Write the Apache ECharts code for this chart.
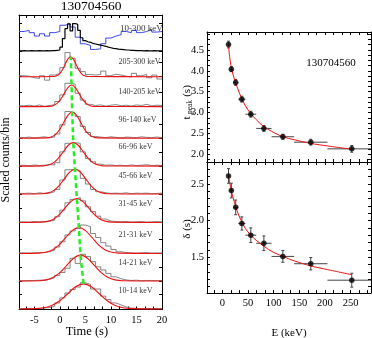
<!DOCTYPE html>
<html><head><meta charset="utf-8">
<script src="https://cdn.jsdelivr.net/npm/echarts@6/dist/echarts.min.js"></script>
<style>html,body{margin:0;padding:0;background:#fff}#c{width:372px;height:338px}</style>
</head><body><div id="c"></div>
<script>
// ---------------- data ----------------
const burstName = '130704560';
const binLo = [10, 14, 21, 31, 45, 66, 96, 140, 205];
const binHi = [14, 21, 31, 45, 66, 96, 140, 205, 300];
const tPeak = [4.63, 4.04, 3.72, 3.32, 2.96, 2.62, 2.42, 2.29, 2.13];
const tPeakErr = [0.08, 0.06, 0.07, 0.07, 0.07, 0.07, 0.06, 0.07, 0.08];
const delta = [2.61, 2.41, 2.18, 1.96, 1.80, 1.69, 1.51, 1.41, 1.185];
const deltaErr = [0.10, 0.10, 0.10, 0.09, 0.10, 0.10, 0.08, 0.085, 0.095];
const fitE = [12, 14, 17.5, 21, 26, 31, 38, 45, 55.5, 66, 81, 96, 118, 140, 172.5, 205, 252.5];
const tPeakFit = [4.62, 4.35, 4.08, 3.90, 3.71, 3.54, 3.33, 3.16, 2.97, 2.83, 2.66, 2.55, 2.42, 2.35, 2.26, 2.20, 2.12];
const deltaFit = [2.62, 2.53, 2.41, 2.31, 2.19, 2.09, 1.98, 1.89, 1.80, 1.73, 1.65, 1.58, 1.51, 1.45, 1.38, 1.33, 1.26];
const xTickLabels = [-5, 0, 5, 10, 15, 20];
const eTickLabels = [0, 50, 100, 150, 200, 250];
const tpTickLabels = [2.0, 2.5, 3.0, 3.5, 4.0, 4.5];
const dTickLabels = [1.5, 2.0, 2.5];

// light curves, 1 s bins starting at -8 s (scaled counts)
const lcBlue = [0.70,0.74,0.66,0.54,0.62,0.54,0.66,0.70,0.92,0.97,0.86,0.50,0.27,0.21,0.07,0.09,0.27,0.47,0.54,0.59,0.70,0.66,0.74,0.66,0.70,0.77,0.68,0.70];
// 10-300 keV black curve, 0.5 s bins starting at -8 s
const lcBlack = [0.02,0.03,0.02,0.02,0.03,0.02,0.02,0.03,0.02,0.02,0.03,0.02,0.03,0.03,0.04,0.05,
  0.15,0.45,0.80,0.97,0.72,0.98,0.95,0.74,0.48,0.38,0.34,0.32,0.28,0.26,0.24,0.22,0.20,0.18,0.15,0.13,0.11,0.10,0.08,0.07,0.06,0.05,0.05,0.04,0.04,
  0.03,0.03,0.03,0.02,0.03,0.02,0.02,0.03,0.02,0.02,0.02];
const h10  = [0.01,0.02,0.01,0.02,0.03,0.05,0.09,0.21,0.39,0.56,0.68,0.77,0.92,0.86,0.70,0.70,0.45,0.33,0.21,0.14,0.07,0.03,0.02,0.01,0.02,0.01,0.02,0.01];
const h14  = [0.01,0.02,0.02,0.03,0.03,0.06,0.12,0.20,0.30,0.45,0.80,0.62,0.94,0.86,0.68,0.50,0.39,0.27,0.15,0.08,0.04,0.02,0.03,0.01,0.02,0.02,0.01,0.02];
const h21  = [0.02,0.01,0.02,0.03,0.03,0.06,0.12,0.23,0.41,0.65,0.79,0.88,1.00,0.94,0.70,0.56,0.38,0.26,0.14,0.06,0.03,0.02,0.01,0.02,0.03,0.01,0.02,0.02];
const h31  = [0.02,0.01,0.03,0.02,0.03,0.04,0.08,0.20,0.43,0.69,0.81,0.88,0.76,0.55,0.38,0.22,0.12,0.05,0.03,0.02,0.03,0.01,0.02,0.03,0.01,0.02,0.03,0.02];
const h45  = [0.02,0.03,0.01,0.04,0.02,0.03,0.08,0.16,0.49,0.85,0.87,0.82,0.55,0.35,0.16,0.08,0.04,0.02,0.03,0.02,0.04,0.01,0.03,0.02,0.03,0.01,0.02,0.03];
const h66  = [0.03,0.01,0.04,0.02,0.03,0.05,0.04,0.12,0.50,0.80,0.82,0.80,0.50,0.27,0.15,0.07,0.03,0.04,0.02,0.03,0.01,0.04,0.02,0.03,0.05,0.02,0.03,0.02];
const h96  = [0.02,0.04,0.01,0.03,0.05,0.02,0.04,0.15,0.47,0.94,0.88,0.76,0.41,0.20,0.06,0.04,0.02,0.05,0.03,0.01,0.04,0.03,0.02,0.05,0.03,0.02,0.04,0.02];
const h140 = [0.03,0.05,0.02,0.06,0.00,0.04,0.07,0.18,0.41,0.82,0.79,0.47,0.23,0.08,0.04,0.06,0.02,0.05,0.07,0.03,0.05,0.02,0.06,0.04,0.08,0.03,0.05,0.04];
const h205 = [0.035,0.02,-0.035,-0.06,0.035,-0.12,0.06,0.12,0.32,0.85,0.65,0.30,0.18,0.08,0.06,0.08,0.20,0.035,0.09,0.06,0.02,-0.01,0.12,0.035,0.08,-0.035,0.06,-0.08];

// fitted pulse curves [t, value]
const fit10  = [[-8,0],[-4.67,0.010],[-3.12,0.039],[-1.57,0.119],[-0.02,0.286],[1.53,0.534],[3.08,0.777],[4.63,0.88],[6.18,0.777],[7.73,0.534],[9.28,0.286],[10.83,0.119],[12.38,0.039],[13.93,0.010],[20,0]];
const fit14  = [[-8,0],[-4.05,0.010],[-2.7,0.040],[-1.35,0.123],[0.0,0.295],[1.35,0.552],[2.7,0.803],[4.05,0.91],[5.4,0.803],[6.75,0.552],[8.1,0.295],[9.45,0.123],[10.8,0.040],[12.15,0.010],[20,0]];
const fit21  = [[-8,0],[-4.08,0.010],[-2.78,0.040],[-1.48,0.123],[-0.18,0.295],[1.12,0.552],[2.42,0.803],[3.72,0.91],[5.02,0.803],[6.32,0.552],[7.62,0.295],[8.92,0.123],[10.22,0.040],[11.52,0.010],[20,0]];
const fit31  = [[-8,0],[-3.57,0.009],[-2.42,0.037],[-1.27,0.114],[-0.12,0.273],[1.03,0.509],[2.18,0.741],[3.33,0.84],[4.48,0.741],[5.63,0.509],[6.78,0.273],[7.93,0.114],[9.08,0.037],[10.23,0.009],[20,0]];
const fit45  = [[-8,0],[-3.33,0.010],[-2.28,0.038],[-1.23,0.118],[-0.18,0.282],[0.87,0.528],[1.92,0.768],[2.97,0.87],[4.02,0.768],[5.07,0.528],[6.12,0.282],[7.17,0.118],[8.22,0.038],[9.27,0.010],[20,0]];
const fit66  = [[-8,0],[-3.23,0.009],[-2.26,0.036],[-1.28,0.112],[-0.31,0.270],[0.67,0.503],[1.65,0.732],[2.62,0.83],[3.6,0.732],[4.57,0.503],[5.55,0.270],[6.52,0.112],[7.5,0.036],[8.47,0.009],[20,0]];
const fit96  = [[-8,0],[-2.53,0.010],[-1.71,0.040],[-0.88,0.124],[-0.06,0.299],[0.77,0.558],[1.6,0.812],[2.42,0.92],[3.25,0.812],[4.07,0.558],[4.9,0.299],[5.72,0.124],[6.55,0.040],[7.37,0.010],[20,0]];
const fit140 = [[-8,0],[-2.05,0.008],[-1.33,0.033],[-0.6,0.103],[0.13,0.247],[0.85,0.461],[1.58,0.671],[2.3,0.76],[3.03,0.671],[3.75,0.461],[4.48,0.247],[5.2,0.103],[5.93,0.033],[6.65,0.008],[20,0]];
const fit205 = [[-8,0],[-1.2,0.008],[-0.65,0.031],[-0.1,0.095],[0.45,0.227],[1.0,0.425],[1.55,0.618],[2.1,0.70],[2.65,0.618],[3.2,0.425],[3.75,0.227],[4.3,0.095],[4.85,0.031],[5.4,0.008],[20,0]];
const peakH = [0.88, 0.91, 0.91, 0.84, 0.87, 0.83, 0.92, 0.76, 0.70];

// ---------------- layout ----------------
const FONT = 'Liberation Serif';
const hists = [h10, h14, h21, h31, h45, h66, h96, h140, h205];
const fits = [fit10, fit14, fit21, fit31, fit45, fit66, fit96, fit140, fit205];
const baseOff = [0.02, 1.0, 1.97, 3.06, 4.06, 5.04, 6.02, 7.13, 8.18];
const topOff = 9.07;
const labelY = [0.65, 1.63, 2.62, 3.70, 4.69, 5.70, 6.68, 7.65, 8.70];
const topLabelY = 9.87;
const labelT = 11.4;
const T0 = -8, T1 = 20;

function stepData(width, vals, off) {
  const d = vals.map((v, i) => [T0 + i * width, off + v]);
  d.push([T1, off + vals[vals.length - 1]]);
  return d;
}
const ticksFrom = (a, b, s) => { const r = []; for (let v = a; v <= b + 1e-6; v += s) r.push(+v.toFixed(4)); return r; };

const tickStyle = (vals) => ({show: true, inside: true, length: 3, customValues: vals, lineStyle: {color: '#000', width: 1}});
const axLine = {show: true, onZero: false, lineStyle: {color: '#000', width: 1}};
function xAx(grid, pos, min, max, ticks, labels, margin) {
  return {type: 'value', gridIndex: grid, position: pos, min, max, splitLine: {show: false},
    axisLine: axLine, axisTick: tickStyle(ticks),
    axisLabel: labels ? {show: true, customValues: labels, color: '#000', fontFamily: FONT, fontSize: 10.5, margin} : {show: false}};
}
function yAx(grid, pos, min, max, ticks, labels) {
  return {type: 'value', gridIndex: grid, position: pos, min, max, splitLine: {show: false},
    axisLine: axLine, axisTick: tickStyle(ticks),
    axisLabel: labels ? {show: true, customValues: labels, color: '#000', fontFamily: FONT, fontSize: 10.5, margin: 3,
      formatter: v => (+v).toFixed(1)} : {show: false}};
}

const tTicks = ticksFrom(-20 / 3, 20, 5 / 3);
const eTicks = ticksFrom(-50 / 3, 290, 50 / 3);
const yLeftTicks = [];
baseOff.forEach(b => { yLeftTicks.push(b, b + 0.5); });
yLeftTicks.push(topOff, topOff + 0.5, topOff + 1.0);

const series = [];
// top panel
series.push({type: 'line', xAxisIndex: 0, yAxisIndex: 0, step: 'end', symbol: 'none', z: 2,
  lineStyle: {color: '#3a48e8', width: 1}, data: stepData(1, lcBlue, topOff)});
series.push({type: 'line', xAxisIndex: 0, yAxisIndex: 0, step: 'end', symbol: 'none', z: 3,
  lineStyle: {color: '#000', width: 1.2}, data: stepData(0.5, lcBlack, topOff)});
// band panels
hists.forEach((h, i) => {
  series.push({type: 'line', xAxisIndex: 0, yAxisIndex: 0, step: 'end', symbol: 'none', z: 2,
    lineStyle: {color: '#666', width: 0.8}, data: stepData(1, h, baseOff[i])});
  series.push({type: 'line', xAxisIndex: 0, yAxisIndex: 0, smooth: 0.35, symbol: 'none', z: 3,
    lineStyle: {color: '#ee1111', width: 1.1}, data: fits[i].map(p => [p[0], baseOff[i] + p[1]])});
});
// green peak line
series.push({type: 'line', xAxisIndex: 0, yAxisIndex: 0, symbol: 'none', z: 5,
  lineStyle: {color: '#22ee22', width: 2.5, type: [5, 3]},
  data: tPeak.map((t, i) => [t, baseOff[i] + peakH[i]])});
// band labels
const labData = binLo.map((lo, i) => ({value: [labelT, labelY[i]], name: lo + '-' + binHi[i] + ' keV', fs: 8}));
labData.push({value: [labelT + 0.3, topLabelY], name: binLo[0] + '-' + binHi[binHi.length - 1] + ' keV', fs: 9});
series.push({type: 'scatter', xAxisIndex: 0, yAxisIndex: 0, symbolSize: 1, z: 6,
  itemStyle: {color: 'rgba(0,0,0,0)'},
  label: {show: true, position: 'right', distance: 0, color: '#000', fontFamily: FONT},
  data: labData.map(d => ({value: d.value, name: d.name,
    label: {show: true, position: 'right', distance: 0, formatter: d.name, color: '#000', fontFamily: FONT, fontSize: d.fs}}))});

// right panels
const eMid = binLo.map((lo, i) => (lo + binHi[i]) / 2);
function errSeries(xi, yi, vals, errs) {
  return {type: 'custom', xAxisIndex: xi, yAxisIndex: yi, clip: true, z: 3,
    data: vals.map((v, i) => [eMid[i], v, binLo[i], binHi[i], v - errs[i], v + errs[i]]),
    encode: {x: 0, y: 1},
    renderItem(params, api) {
      const p = api.coord([api.value(0), api.value(1)]);
      const pl = api.coord([api.value(2), api.value(1)]);
      const ph = api.coord([api.value(3), api.value(1)]);
      const lo = api.coord([api.value(0), api.value(4)]);
      const hi = api.coord([api.value(0), api.value(5)]);
      const st = {stroke: '#444', lineWidth: 1};
      return {type: 'group', children: [
        {type: 'line', shape: {x1: pl[0], y1: p[1], x2: ph[0], y2: p[1]}, style: st},
        {type: 'line', shape: {x1: p[0], y1: lo[1], x2: p[0], y2: hi[1]}, style: st},
        {type: 'line', shape: {x1: p[0] - 1.5, y1: lo[1], x2: p[0] + 1.5, y2: lo[1]}, style: st},
        {type: 'line', shape: {x1: p[0] - 1.5, y1: hi[1], x2: p[0] + 1.5, y2: hi[1]}, style: st}
      ]};
    }};
}
series.push(errSeries(2, 2, tPeak, tPeakErr));
series.push({type: 'line', xAxisIndex: 2, yAxisIndex: 2, smooth: 0.3, symbol: 'none', z: 4,
  lineStyle: {color: '#ee1111', width: 1}, data: fitE.map((e, i) => [e, tPeakFit[i]])});
series.push({type: 'scatter', xAxisIndex: 2, yAxisIndex: 2, symbolSize: 5.5, z: 5,
  itemStyle: {color: '#000'}, data: eMid.map((e, i) => [e, tPeak[i]])});
series.push(errSeries(4, 4, delta, deltaErr));
series.push({type: 'line', xAxisIndex: 4, yAxisIndex: 4, smooth: 0.3, symbol: 'none', z: 4,
  lineStyle: {color: '#ee1111', width: 1}, data: fitE.map((e, i) => [e, deltaFit[i]])});
series.push({type: 'scatter', xAxisIndex: 4, yAxisIndex: 4, symbolSize: 5.5, z: 5,
  itemStyle: {color: '#000'}, data: eMid.map((e, i) => [e, delta[i]])});

const txt = (x, y, text, size, rot) => ({type: 'text', x, y, rotation: rot || 0, z: 10,
  style: {text, fill: '#000', font: size + 'px "' + FONT + '"', align: 'center', verticalAlign: 'middle'}});

const option = {
  animation: false,
  backgroundColor: '#fff',
  grid: [
    {left: 19, top: 15, width: 143, height: 294.5},
    {left: 207, top: 32, width: 164, height: 130},
    {left: 207, top: 162, width: 164, height: 131}
  ],
  xAxis: [
    xAx(0, 'bottom', T0, T1, tTicks, xTickLabels, 5),
    xAx(0, 'top', T0, T1, tTicks, null),
    xAx(1, 'bottom', -30, 290, eTicks, null),
    xAx(1, 'top', -30, 290, eTicks, null),
    xAx(2, 'bottom', -30, 290, eTicks, eTickLabels, 5),
    xAx(2, 'top', -30, 290, eTicks, null)
  ],
  yAxis: [
    yAx(0, 'left', 0, 10.35, yLeftTicks, null),
    yAx(0, 'right', 0, 10.35, yLeftTicks, null),
    yAx(1, 'left', 1.815, 4.93, ticksFrom(1.875, 4.9, 0.125), tpTickLabels),
    yAx(1, 'right', 1.815, 4.93, ticksFrom(1.875, 4.9, 0.125), null),
    yAx(2, 'left', 1.01, 2.80, ticksFrom(1.1, 2.8, 0.1), dTickLabels),
    yAx(2, 'right', 1.01, 2.80, ticksFrom(1.1, 2.8, 0.1), null)
  ],
  series,
  graphic: [
    txt(91, 6, burstName, 13.5),
    txt(331, 63, burstName, 11),
    txt(6, 160, 'Scaled counts/bin', 12, Math.PI / 2),
    txt(87, 332, 'Time (s)', 12.5),
    txt(289, 333, 'E (keV)', 11),
    txt(187, 229, 'δ (s)', 11, Math.PI / 2),
    txt(187, 118, 't', 11, Math.PI / 2),
    txt(190, 107, 'peak', 7.5, Math.PI / 2),
    txt(187, 91, '(s)', 11, Math.PI / 2)
  ]
};
const chart = echarts.init(document.getElementById('c'));
chart.setOption(option);
</script>
</body></html>
